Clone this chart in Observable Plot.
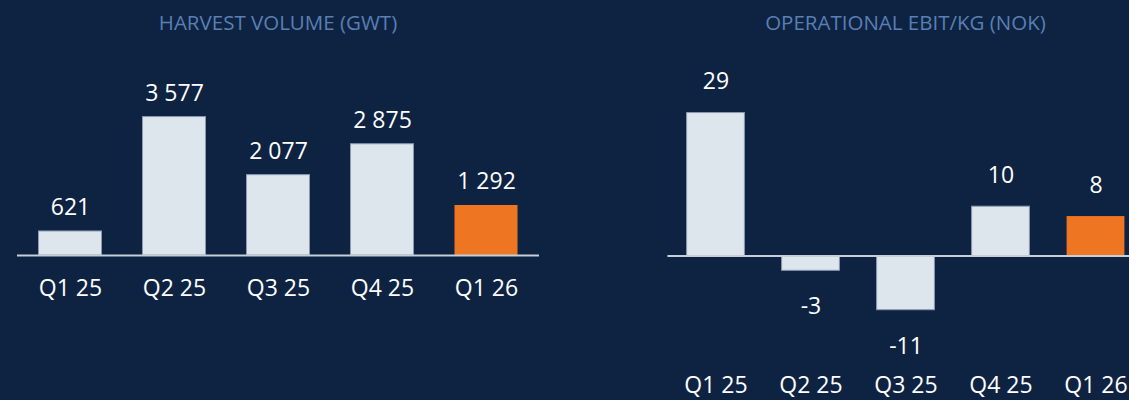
<!DOCTYPE html>
<html>
<head>
<meta charset="utf-8">
<script src="https://cdn.jsdelivr.net/npm/d3@7"></script>
<script src="https://cdn.jsdelivr.net/npm/@observablehq/plot@0.6"></script>
<style>
  html, body { margin: 0; padding: 0; background: #0e2342; }
  #wrap { position: relative; width: 1129px; height: 400px; background: #0e2342; overflow: hidden; font-family: "Open Sans", sans-serif; }
  .panel { position: absolute; top: 0; height: 400px; overflow: hidden; }
  .title { position: absolute; top: 12px; left: 0; text-align: center; font-size: 20.5px; line-height: 20px; color: #5a7fb3; white-space: nowrap; z-index: 2; }
  .panel svg { position: absolute; top: 0; left: 0; max-width: none !important; }
</style>
</head>
<body>
<div id="wrap">
  <div class="panel" id="left" style="left:0px;width:560px;">
    <div class="title" style="width:556px;">HARVEST VOLUME (GWT)</div>
  </div>
  <div class="panel" id="right" style="left:640px;width:489px;">
    <div class="title" style="width:531px;">OPERATIONAL EBIT/KG (NOK)</div>
  </div>
</div>
<script>
// ---- data ----
const quarters = ["Q1 25", "Q2 25", "Q3 25", "Q4 25", "Q1 26"];
const harvestVolume = [621, 3577, 2077, 2875, 1292];
const ebitPerKg = [29, -3, -11, 10, 8];
const highlightQuarter = "Q1 26";

// ---- styling ----
const LIGHT = "#dde5ed";
const EDGE = "#8a9ab0";
const ORANGE = "#ee7623";
const RULE = "#c6ced8";

const locale = d3.formatLocale({decimal: ",", thousands: " ", grouping: [3], currency: ["", ""], minus: "-"});
const fmt = locale.format(",.0f");

const harvestRows = quarters.map((q, i) => ({q, v: harvestVolume[i]}));
const ebitRows = quarters.map((q, i) => ({q, v: ebitPerKg[i]}));

const baseStyle = {background: "transparent", color: "#ffffff", fontFamily: "'Open Sans', sans-serif", fontSize: "23px", overflow: "visible", maxWidth: "none"};

const left = Plot.plot({
  width: 560, height: 400,
  marginLeft: 17, marginRight: 21, marginTop: 0, marginBottom: 145,
  style: baseStyle,
  x: {domain: quarters, padding: 0, label: null, tickSize: 0, tickPadding: 24},
  y: {domain: [0, 6589], axis: null},
  marks: [
    Plot.barY(harvestRows, {filter: d => d.q !== highlightQuarter, x: "q", y: "v", fill: LIGHT, stroke: EDGE, strokeWidth: 1, insetLeft: 20.5, insetRight: 20.5}),
    Plot.barY(harvestRows, {filter: d => d.q === highlightQuarter, x: "q", y: "v", fill: ORANGE, insetLeft: 20.5, insetRight: 20.5}),
    Plot.ruleY([0], {stroke: RULE, strokeWidth: 2}),
    Plot.text(harvestRows, {x: "q", y: "v", text: d => fmt(d.v), lineAnchor: "bottom", dy: -16, fill: "#ffffff", fontSize: 23})
  ]
});

const right = Plot.plot({
  width: 540, height: 400,
  marginLeft: 27.4, marginRight: 36.4, marginTop: 0, marginBottom: 40,
  style: baseStyle,
  x: {domain: quarters, padding: 0, label: null, tickSize: 0, tickPadding: 16},
  y: {domain: [-21.2, 51.83], axis: null},
  marks: [
    Plot.barY(ebitRows, {filter: d => d.q !== highlightQuarter, x: "q", y: "v", fill: LIGHT, stroke: EDGE, strokeWidth: 1, insetLeft: 18.6, insetRight: 18.6}),
    Plot.barY(ebitRows, {filter: d => d.q === highlightQuarter, x: "q", y: "v", fill: ORANGE, insetLeft: 18.6, insetRight: 18.6}),
    Plot.ruleY([0], {stroke: RULE, strokeWidth: 2}),
    Plot.text(ebitRows, {filter: d => d.v >= 0, x: "q", y: "v", text: d => fmt(d.v), lineAnchor: "bottom", dy: -24, fill: "#ffffff", fontSize: 23}),
    Plot.text(ebitRows, {filter: d => d.v < 0, x: "q", y: "v", text: d => fmt(d.v), lineAnchor: "top", dy: 27, fill: "#ffffff", fontSize: 23})
  ]
});

document.getElementById("left").appendChild(left);
document.getElementById("right").appendChild(right);
</script>
</body>
</html>
